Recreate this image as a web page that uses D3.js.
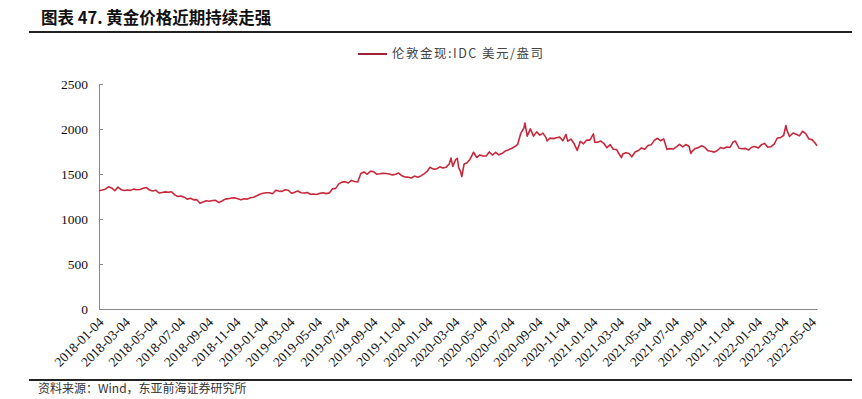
<!DOCTYPE html>
<html><head><meta charset="utf-8">
<script src="https://cdn.jsdelivr.net/npm/d3@7"></script>
<style>body{margin:0;background:#fff}svg{display:block}</style>
</head><body>
<svg id="c" width="862" height="399"></svg>
<script>
const titleText = "图表 47. 黄金价格近期持续走强";
const seriesName = "伦敦金现:IDC 美元/盎司";
const sourceText = "资料来源：Wind，东亚前海证券研究所";
const yTicks = [0, 500, 1000, 1500, 2000, 2500];
const xTickLabels = ["2018-01-04","2018-03-04","2018-05-04","2018-07-04","2018-09-04","2018-11-04",
 "2019-01-04","2019-03-04","2019-05-04","2019-07-04","2019-09-04","2019-11-04",
 "2020-01-04","2020-03-04","2020-05-04","2020-07-04","2020-09-04","2020-11-04",
 "2021-01-04","2021-03-04","2021-05-04","2021-07-04","2021-09-04","2021-11-04",
 "2022-01-04","2022-03-04","2022-05-04"];
const dates = ["2018-01-04","2018-01-11","2018-01-18","2018-01-25","2018-02-01","2018-02-08","2018-02-15","2018-02-22","2018-03-01","2018-03-08","2018-03-15","2018-03-22","2018-03-29","2018-04-05","2018-04-12","2018-04-19","2018-04-26","2018-05-03","2018-05-10","2018-05-17","2018-05-24","2018-05-31","2018-06-07","2018-06-14","2018-06-21","2018-06-28","2018-07-05","2018-07-12","2018-07-19","2018-07-26","2018-08-02","2018-08-09","2018-08-16","2018-08-23","2018-08-30","2018-09-06","2018-09-13","2018-09-20","2018-09-27","2018-10-04","2018-10-11","2018-10-18","2018-10-25","2018-11-01","2018-11-08","2018-11-15","2018-11-22","2018-11-29","2018-12-06","2018-12-13","2018-12-20","2018-12-27",
"2019-01-03","2019-01-10","2019-01-17","2019-01-24","2019-01-31","2019-02-07","2019-02-14","2019-02-21","2019-02-28","2019-03-07","2019-03-14","2019-03-21","2019-03-28","2019-04-04","2019-04-11","2019-04-18","2019-04-25","2019-05-02","2019-05-09","2019-05-16","2019-05-23","2019-05-30","2019-06-06","2019-06-13","2019-06-20","2019-06-27","2019-07-04","2019-07-11","2019-07-18","2019-07-25","2019-08-01","2019-08-08","2019-08-15","2019-08-22","2019-08-29","2019-09-05","2019-09-12","2019-09-19","2019-09-26","2019-10-03","2019-10-10","2019-10-17","2019-10-24","2019-10-31","2019-11-07","2019-11-14","2019-11-21","2019-11-28","2019-12-05","2019-12-12","2019-12-19","2019-12-26",
"2020-01-02","2020-01-08","2020-01-16","2020-01-23","2020-01-30","2020-02-06","2020-02-13","2020-02-20","2020-02-24","2020-02-28","2020-03-05","2020-03-09","2020-03-12","2020-03-16","2020-03-19","2020-03-24","2020-03-30","2020-04-06","2020-04-14","2020-04-21","2020-04-28","2020-05-05","2020-05-12","2020-05-19","2020-05-26","2020-06-02","2020-06-09","2020-06-16","2020-06-23","2020-06-30","2020-07-07","2020-07-14","2020-07-21","2020-07-28","2020-08-04","2020-08-06","2020-08-11","2020-08-18","2020-08-25","2020-09-01","2020-09-08","2020-09-15","2020-09-22","2020-09-24","2020-10-01","2020-10-08","2020-10-15","2020-10-22","2020-10-29","2020-11-05","2020-11-09","2020-11-16","2020-11-23","2020-11-30","2020-12-07","2020-12-14","2020-12-21","2020-12-28",
"2021-01-05","2021-01-08","2021-01-14","2021-01-21","2021-01-28","2021-02-04","2021-02-11","2021-02-18","2021-02-25","2021-03-04","2021-03-08","2021-03-11","2021-03-18","2021-03-25","2021-03-31","2021-04-08","2021-04-15","2021-04-22","2021-04-29","2021-05-06","2021-05-13","2021-05-20","2021-05-27","2021-06-03","2021-06-10","2021-06-17","2021-06-24","2021-07-01","2021-07-08","2021-07-15","2021-07-22","2021-07-29","2021-08-05","2021-08-09","2021-08-12","2021-08-19","2021-08-26","2021-09-02","2021-09-09","2021-09-16","2021-09-23","2021-09-30","2021-10-07","2021-10-14","2021-10-21","2021-10-28","2021-11-04","2021-11-11","2021-11-16","2021-11-24","2021-12-01","2021-12-08","2021-12-15","2021-12-22","2021-12-29",
"2022-01-06","2022-01-13","2022-01-20","2022-01-27","2022-02-03","2022-02-10","2022-02-17","2022-02-24","2022-03-03","2022-03-08","2022-03-10","2022-03-16","2022-03-24","2022-03-31","2022-04-07","2022-04-14","2022-04-21","2022-04-28","2022-05-05","2022-05-12","2022-05-16"];
const prices = [1314,1322,1331,1358,1345,1314,1354,1326,1317,1322,1318,1332,1325,1327,1341,1350,1322,1312,1320,1289,1295,1301,1298,1303,1268,1250,1256,1243,1221,1231,1213,1215,1174,1190,1203,1198,1205,1208,1183,1200,1221,1226,1234,1236,1226,1213,1225,1221,1237,1242,1258,1275,
1286,1291,1292,1281,1319,1310,1307,1325,1320,1286,1296,1311,1292,1288,1294,1275,1278,1273,1285,1291,1282,1290,1335,1340,1390,1410,1415,1400,1429,1417,1412,1505,1523,1497,1530,1526,1498,1502,1507,1505,1500,1490,1498,1510,1480,1467,1465,1456,1477,1465,1479,1502,
1528,1574,1554,1556,1580,1566,1576,1611,1677,1585,1658,1675,1570,1529,1472,1611,1622,1662,1742,1683,1712,1700,1700,1745,1711,1740,1713,1727,1755,1768,1784,1802,1830,1955,2014,2067,1921,2001,1921,1968,1932,1954,1901,1868,1899,1893,1903,1910,1869,1940,1865,1888,1838,1762,1863,1835,1877,1876,
1946,1852,1853,1866,1839,1792,1826,1775,1773,1714,1682,1721,1736,1728,1691,1747,1762,1790,1776,1816,1824,1874,1897,1869,1890,1774,1782,1777,1802,1829,1802,1827,1809,1729,1752,1784,1793,1814,1796,1758,1752,1743,1761,1794,1783,1800,1796,1856,1866,1786,1781,1785,1766,1797,1805,
1790,1826,1840,1798,1803,1833,1900,1904,1928,2039,1990,1917,1956,1942,1924,1975,1948,1889,1882,1842,1815];

const parse = d3.timeParse("%Y-%m-%d");
const data = dates.map((d, i) => ({date: parse(d), value: prices[i]}));
const svg = d3.select("#c");

const mLeft = 99, mRight = 817, mTop = 84, mBottom = 309;
const x = d3.scaleTime().domain([parse("2018-01-04"), parse("2022-05-16")]).range([mLeft, mRight]);
const y = d3.scaleLinear().domain([0, 2500]).range([mBottom, mTop]);

const serif = "'Liberation Serif', 'Times New Roman', serif";
const cjk = "'Noto Sans CJK SC', sans-serif";

// title
svg.append("text").attr("x", 41).attr("y", 24).text(titleText)
  .attr("font-family", cjk).attr("font-weight", "bold")
  .attr("font-size", 16.5).attr("fill", "#111");
svg.append("line").attr("x1", 29).attr("x2", 852).attr("y1", 32).attr("y2", 32)
  .attr("stroke", "#222").attr("stroke-width", 2);
svg.append("line").attr("x1", 29).attr("x2", 852).attr("y1", 380).attr("y2", 380)
  .attr("stroke", "#222").attr("stroke-width", 2);
svg.append("text").attr("x", 38).attr("y", 393).text(sourceText)
  .attr("font-family", cjk).attr("font-size", 12).attr("fill", "#333");

// legend
svg.append("line").attr("x1", 358).attr("x2", 387).attr("y1", 54).attr("y2", 54)
  .attr("stroke", "#9b2335").attr("stroke-width", 2);
svg.append("text").attr("x", 392).attr("y", 58).text(seriesName)
  .attr("font-family", cjk).attr("font-size", 12.5).attr("fill", "#444")
  .attr("letter-spacing", 1.5);

// y axis
const ya = svg.append("g").attr("transform", `translate(${mLeft},0)`)
  .call(d3.axisLeft(y).tickValues(yTicks).tickSize(-4).tickPadding(11).tickFormat(d3.format("d")));
ya.select(".domain").attr("stroke", "#888");
ya.selectAll(".tick line").attr("stroke", "#888");
ya.selectAll("text").style("font-family", serif).style("font-size", "13.5px").attr("fill", "#111");

// x axis
const xa = svg.append("g").attr("transform", `translate(0,${mBottom})`)
  .call(d3.axisBottom(x).tickValues(xTickLabels.map(parse)).tickSize(0).tickFormat(d3.timeFormat("%Y-%m-%d")));
xa.select(".domain").attr("stroke", "#888");
xa.selectAll("text").style("font-family", serif).style("font-size", "13.5px").attr("fill", "#111")
  .attr("text-anchor", "end").attr("dy", 0).attr("y", 0)
  .attr("transform", "translate(5,14) rotate(-45)");

// line
svg.append("path").datum(data)
  .attr("fill", "none").attr("stroke", "#c8283c").attr("stroke-width", 1.6).attr("stroke-linejoin", "round")
  .attr("d", d3.line().x(d => x(d.date)).y(d => y(d.value)));
</script>
</body></html>
